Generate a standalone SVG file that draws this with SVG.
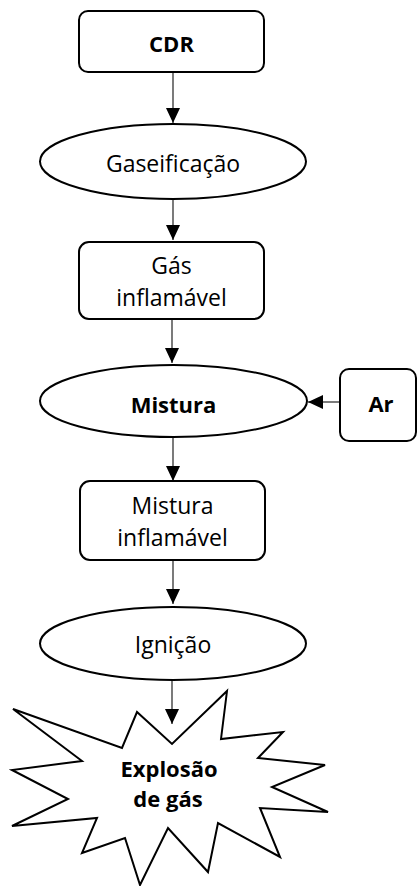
<svg xmlns="http://www.w3.org/2000/svg" width="418" height="886" viewBox="0 0 418 886">
<style>
.shape{fill:#fff;stroke:#000;stroke-width:2}
.t{font-family:"Open Sans","Noto Sans",sans-serif;font-size:23px;fill:#000;text-anchor:middle}
.b{font-family:"Open Sans","Noto Sans",sans-serif;font-size:22px;font-weight:bold;fill:#000;text-anchor:middle}
.c{stroke:#333;stroke-width:1.3;fill:none;marker-end:url(#ah)}
</style>
<defs>
<marker id="ah" markerUnits="userSpaceOnUse" markerWidth="15" markerHeight="14" refX="15" refY="7" orient="auto">
<path d="M0,0 L15,7 L0,14 Z" fill="#000"/>
</marker>
</defs>
<rect width="418" height="886" fill="#fff"/>
<g id="connectors">
<line class="c" x1="173" y1="72" x2="173" y2="123"/>
<line class="c" x1="173" y1="199" x2="173" y2="240"/>
<line class="c" x1="172" y1="319" x2="172" y2="363"/>
<line class="c" x1="173" y1="437" x2="173" y2="481"/>
<line class="c" x1="173" y1="560" x2="173" y2="604"/>
<line class="c" x1="172" y1="681" x2="172" y2="724"/>
<line class="c" x1="340" y1="402" x2="308" y2="402"/>
</g>
<g id="cdr">
<rect class="shape" x="79" y="11" width="185" height="61" rx="9"/>
<text class="b" x="171.5" y="52">CDR</text>
</g>
<g id="gaseificacao">
<ellipse class="shape" cx="173" cy="161.5" rx="133" ry="37.5"/>
<text class="t" x="173" y="172">Gaseificação</text>
</g>
<g id="gas-inflamavel">
<rect class="shape" x="79" y="242" width="185" height="77" rx="10"/>
<text class="t" x="171.5" y="274">Gás</text>
<text class="t" x="171.5" y="306">inflamável</text>
</g>
<g id="mistura">
<ellipse class="shape" cx="173.5" cy="401" rx="133.5" ry="36"/>
<text class="b" x="173.5" y="413">Mistura</text>
</g>
<g id="ar">
<rect class="shape" x="340" y="369" width="76" height="72" rx="9"/>
<text class="b" x="381" y="412">Ar</text>
</g>
<g id="mistura-inflamavel">
<rect class="shape" x="80" y="481" width="185" height="79" rx="10"/>
<text class="t" x="172.5" y="514">Mistura</text>
<text class="t" x="172.5" y="546">inflamável</text>
</g>
<g id="ignicao">
<ellipse class="shape" cx="173" cy="643.5" rx="133" ry="36.5"/>
<text class="t" x="173" y="653">Ignição</text>
</g>
<g id="explosao">
<polygon class="shape" points="13,709 122,748 137,712 172,744 227,691 221,739 283,732 258,758 325,765 272,787 328,812 260,808 280,857 218,823 208,872 168,828 140,885 125,838 82,853 97,818 12,826 68,799 12,770 82,761"/>
<text class="b" x="169" y="777">Explosão</text>
<text class="b" x="168" y="807">de gás</text>
</g>
</svg>
